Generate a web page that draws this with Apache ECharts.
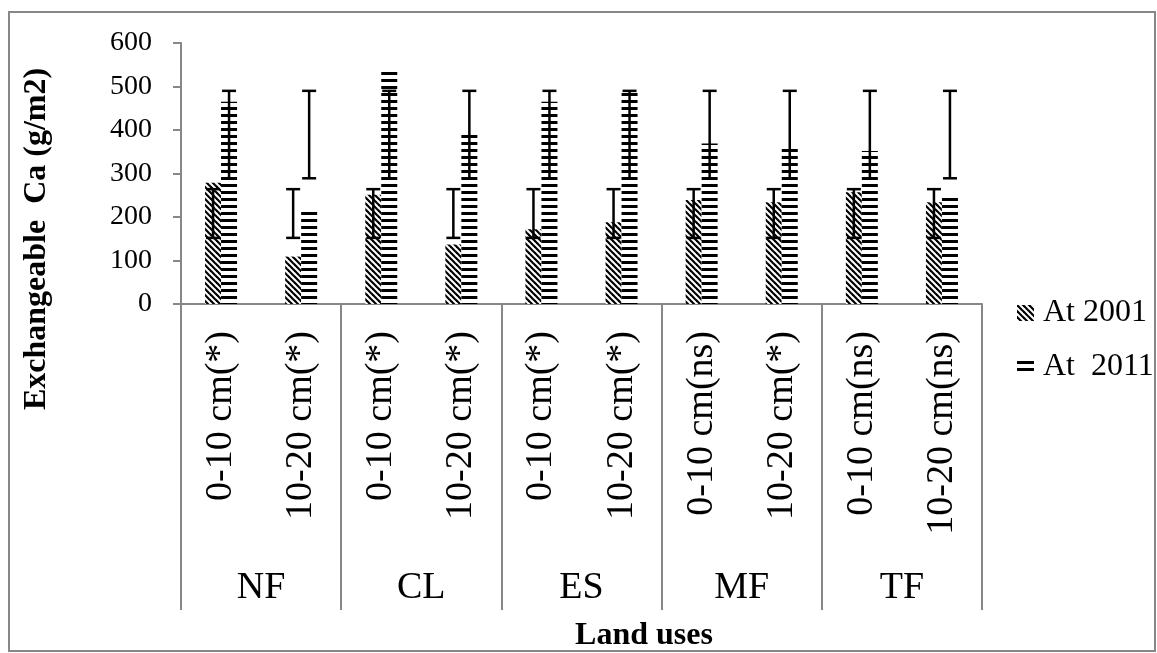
<!DOCTYPE html>
<html>
<head>
<meta charset="utf-8">
<script src="https://cdn.jsdelivr.net/npm/echarts@6/dist/echarts.min.js"></script>
<style>
html, body { margin: 0; padding: 0; background: #fff; }
#chart { width: 1157px; height: 653px; }
</style>
</head>
<body>
<div id="chart"></div>
<script>
// 数据
var depths = ['0-10 cm(*)', '10-20 cm(*)', '0-10 cm(*)', '10-20 cm(*)', '0-10 cm(*)',
              '10-20 cm(*)', '0-10 cm(ns)', '10-20 cm(*)', '0-10 cm(ns)', '10-20 cm(ns)'];
var landUses = ['NF', 'CL', 'ES', 'MF', 'TF'];
var ca2001 = [279, 109, 251, 137, 172, 188, 239, 234, 257, 234];
var ca2011 = [465, 216, 534, 392, 465, 490, 369, 358, 352, 252];
var err2001Low  = [152, 152, 152, 152, 152, 152, 152, 152, 152, 152];
var err2001High = [264, 264, 264, 264, 264, 264, 264, 264, 264, 264];
var err2011Low  = [289, 289, 289, 289, 289, 289, 289, 289, 289, 289];
var err2011High = [490, 490, 490, 490, 490, 490, 490, 490, 490, 490];

var FONT = 'Liberation Serif';
var GREY = '#878787';
var BAR_W = 16;

// 斜线填充
function diagPattern() {
    var c = document.createElement('canvas');
    c.width = 6; c.height = 6;
    var ctx = c.getContext('2d');
    ctx.fillStyle = '#fff';
    ctx.fillRect(0, 0, 6, 6);
    ctx.strokeStyle = '#000';
    ctx.lineWidth = 2.2;
    [-6, 0, 6].forEach(function (k) {
        ctx.beginPath();
        ctx.moveTo(k - 1, -1);
        ctx.lineTo(k + 7, 7);
        ctx.stroke();
    });
    return c;
}
// 横线填充
function hPattern() {
    var c = document.createElement('canvas');
    c.width = 8; c.height = 7;
    var ctx = c.getContext('2d');
    ctx.fillStyle = '#fff';
    ctx.fillRect(0, 0, 8, 7);
    ctx.fillStyle = '#000';
    ctx.fillRect(0, 2, 8, 3);
    return c;
}

function errData(lo, hi) {
    return lo.map(function (v, i) { return [i, v, hi[i]]; });
}

function errRender(offset) {
    return function (params, api) {
        var idx = api.value(0);
        var p1 = api.coord([idx, api.value(1)]);
        var p2 = api.coord([idx, api.value(2)]);
        var x = p1[0] + offset;
        var hw = 7;
        var st = { stroke: '#000', lineWidth: 2.5 };
        return {
            type: 'group',
            children: [
                { type: 'line', shape: { x1: x, y1: p1[1], x2: x, y2: p2[1] }, style: st },
                { type: 'line', shape: { x1: x - hw, y1: p1[1], x2: x + hw, y2: p1[1] }, style: st },
                { type: 'line', shape: { x1: x - hw, y1: p2[1], x2: x + hw, y2: p2[1] }, style: st }
            ]
        };
    };
}

var myChart = echarts.init(document.getElementById('chart'));
var option = {
    animation: false,
    backgroundColor: '#fff',
    grid: { left: 181, right: 175, top: 43, bottom: 349 },
    legend: {
        data: ['At 2001', 'At  2011'],
        orient: 'vertical',
        left: 1012,
        top: 292,
        itemWidth: 17,
        itemHeight: 16,
        itemGap: 22,
        icon: 'rect',
        textStyle: { fontFamily: FONT, fontSize: 32, color: '#000', padding: [0, 0, 0, 4] }
    },
    xAxis: [{
        type: 'category',
        data: depths,
        axisLine: { lineStyle: { color: GREY, width: 2 } },
        axisTick: { show: false },
        axisLabel: {
            interval: 0,
            rotate: 90,
            margin: 27,
            fontFamily: FONT,
            fontSize: 38,
            color: '#000'
        }
    }, {
        type: 'category',
        data: landUses,
        position: 'bottom',
        axisLine: { show: false },
        axisTick: { show: true, length: 306, lineStyle: { color: GREY, width: 2 } },
        axisLabel: { margin: 265, fontFamily: FONT, fontSize: 38, color: '#000' }
    }],
    yAxis: {
        type: 'value',
        min: 0,
        max: 600,
        interval: 100,
        axisLine: { show: true, lineStyle: { color: GREY, width: 2 } },
        axisTick: { show: true, length: 8, lineStyle: { color: GREY, width: 2 } },
        axisLabel: { margin: 29, fontFamily: FONT, fontSize: 28, color: '#000' },
        splitLine: { show: false }
    },
    graphic: [{
        type: 'rect',
        shape: { x: 9, y: 12, width: 1146, height: 639 },
        style: { fill: 'none', stroke: GREY, lineWidth: 2 },
        z: -10
    }, {
        type: 'text',
        x: 37,
        y: 239,
        rotation: Math.PI / 2,
        style: {
            text: 'Exchangeable  Ca (g/m2)',
            font: 'bold 32px "Liberation Serif"',
            fill: '#000',
            align: 'center',
            verticalAlign: 'middle'
        }
    }, {
        type: 'text',
        x: 644,
        y: 636,
        style: {
            text: 'Land uses',
            font: 'bold 32px "Liberation Serif"',
            fill: '#000',
            align: 'center',
            verticalAlign: 'middle'
        }
    }],
    series: [{
        name: 'At 2001',
        type: 'bar',
        data: ca2001,
        barWidth: BAR_W,
        barGap: '0%',
        itemStyle: { color: { image: diagPattern(), repeat: 'repeat' } }
    }, {
        name: 'At  2011',
        type: 'bar',
        data: ca2011,
        barWidth: BAR_W,
        barGap: '0%',
        itemStyle: { color: { image: hPattern(), repeat: 'repeat' } }
    }, {
        name: 'err2001',
        type: 'custom',
        renderItem: errRender(-BAR_W / 2),
        data: errData(err2001Low, err2001High),
        encode: { x: 0, y: [1, 2] },
        z: 10
    }, {
        name: 'err2011',
        type: 'custom',
        renderItem: errRender(BAR_W / 2),
        data: errData(err2011Low, err2011High),
        encode: { x: 0, y: [1, 2] },
        z: 10
    }]
};
myChart.setOption(option);
</script>
</body>
</html>
